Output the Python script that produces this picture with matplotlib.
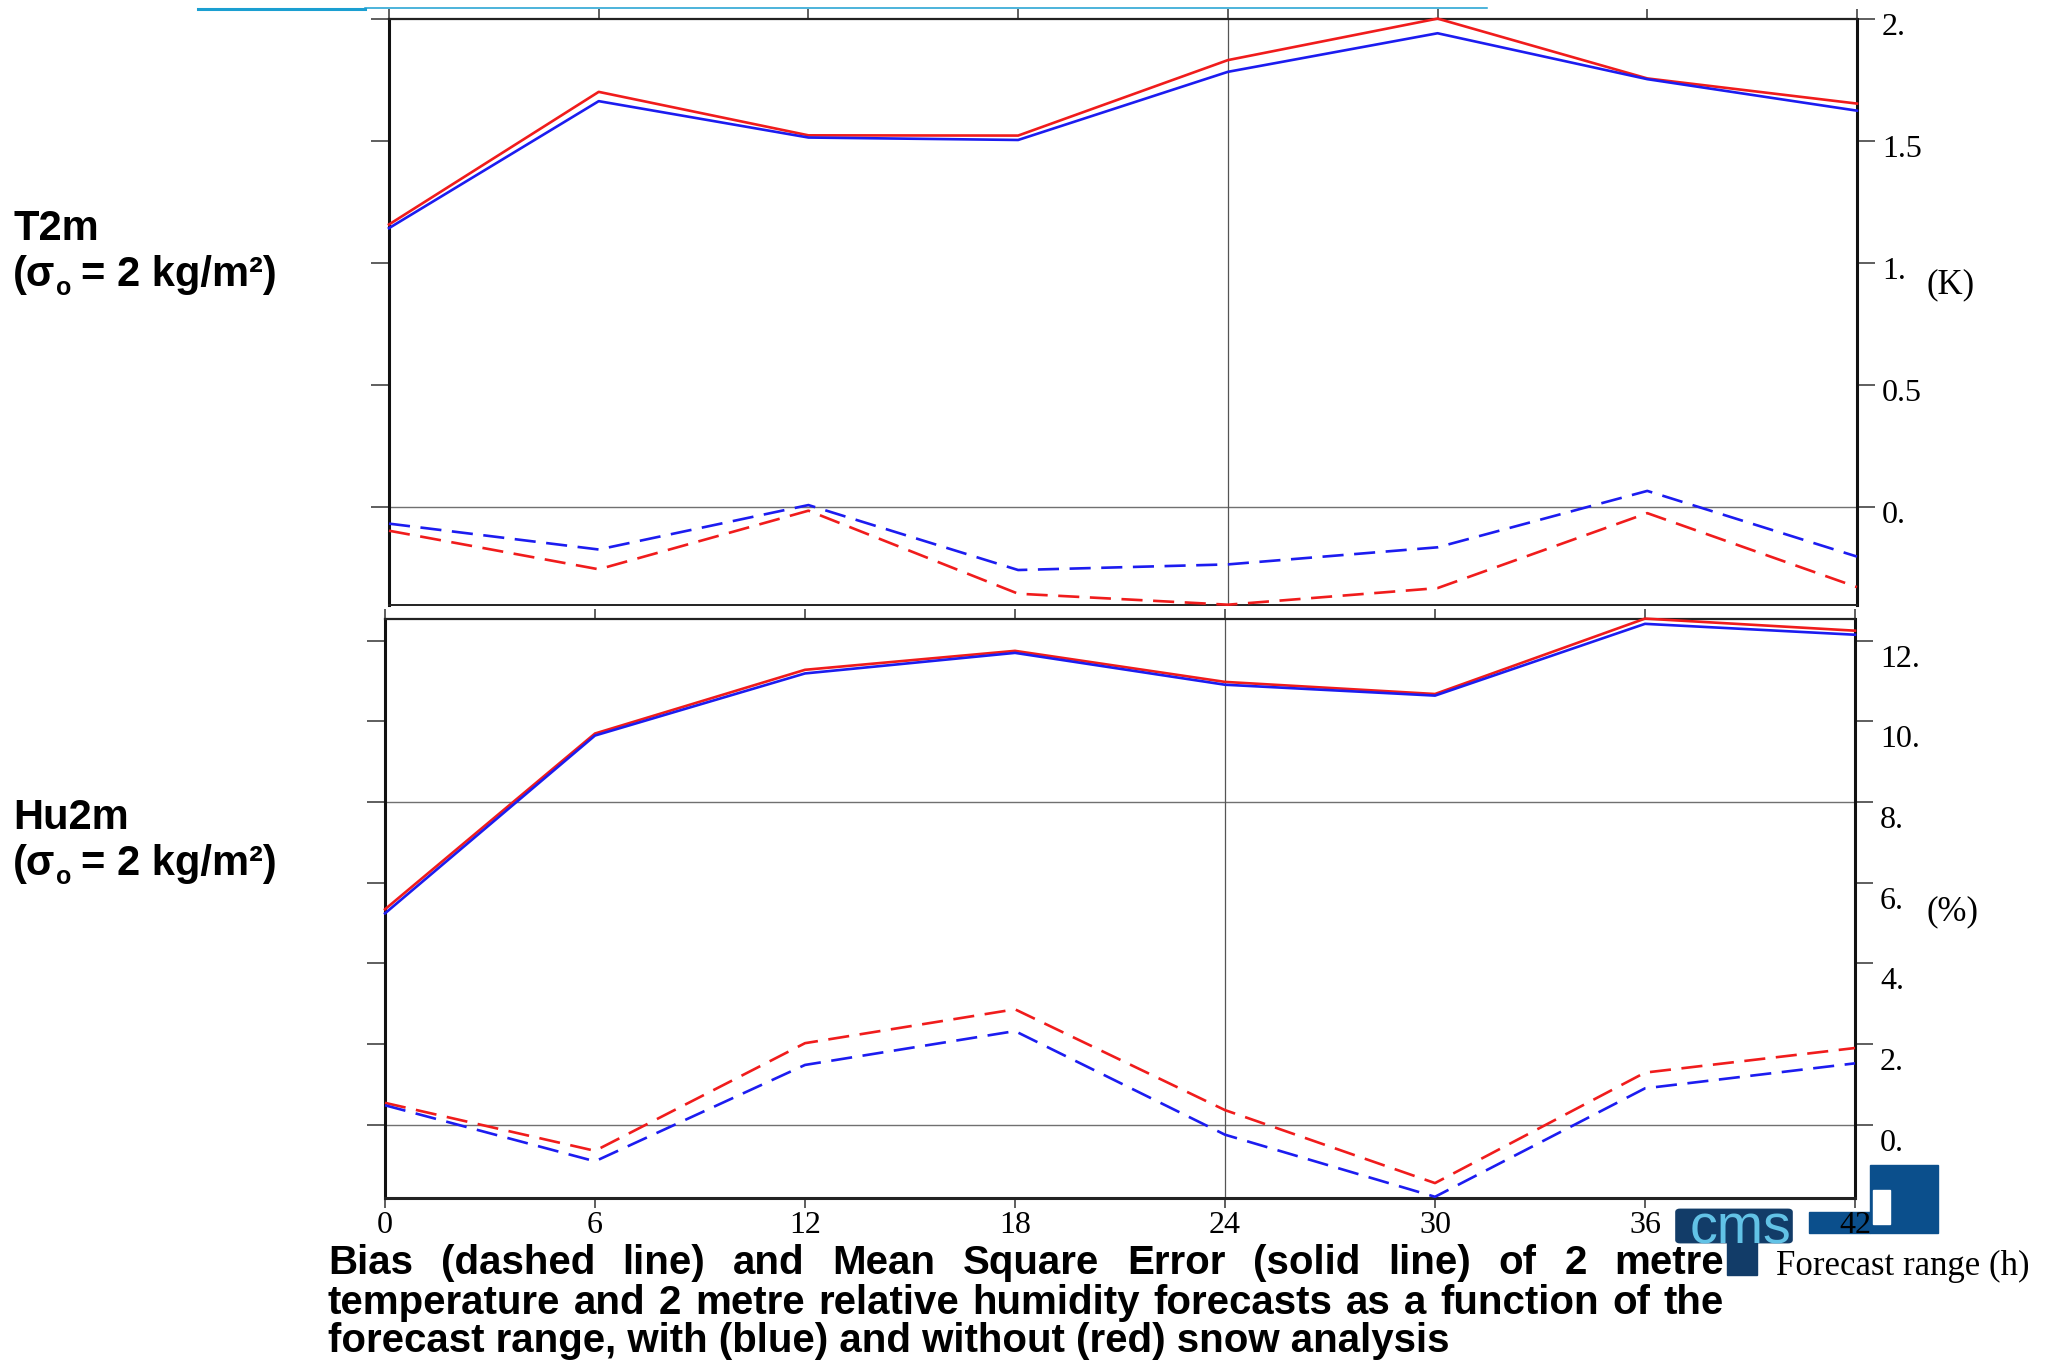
"""
Bias and mean square error of 2 metre temperature and humidity
forecasts, with (blue) and without (red) snow analysis.
"""

import matplotlib
matplotlib.use('Agg')
import matplotlib.pyplot as plt
from matplotlib.lines import Line2D
from matplotlib.patches import Rectangle, FancyBboxPatch
from matplotlib.transforms import ScaledTranslation


WIDTH, HEIGHT, DPI = 2045, 1361, 100

HOURS = [0, 6, 12, 18, 24, 30, 36, 42]

T2M_MSE_BLUE = [1.142, 1.662, 1.513, 1.503, 1.782, 1.94, 1.752, 1.623]
T2M_MSE_RED = [1.157, 1.70, 1.522, 1.521, 1.83, 2.00, 1.755, 1.652]
T2M_BIAS_BLUE = [-0.068, -0.174, 0.008, -0.258, -0.235, -0.165, 0.066, -0.203]
T2M_BIAS_RED = [-0.097, -0.255, -0.015, -0.355, -0.40, -0.332, -0.025, -0.328]

HU2M_MSE_BLUE = [5.24, 9.65, 11.19, 11.70, 10.91, 10.64, 12.42, 12.15]
HU2M_MSE_RED = [5.34, 9.70, 11.28, 11.75, 10.98, 10.68, 12.55, 12.25]
HU2M_BIAS_BLUE = [0.48, -0.91, 1.48, 2.32, -0.25, -1.79, 0.90, 1.52]
HU2M_BIAS_RED = [0.54, -0.65, 2.02, 2.86, 0.36, -1.45, 1.29, 1.90]

T2M_TICKS = [0, 0.5, 1, 1.5, 2]
T2M_TICK_LABELS = ['0.', '0.5', '1.', '1.5', '2.']
HU2M_TICKS = [0, 2, 4, 6, 8, 10, 12]
HU2M_TICK_LABELS = ['0.', '2.', '4.', '6.', '8.', '10.', '12.']

CAPTION_LINES = [
    'Bias (dashed line) and Mean Square Error (solid line) of 2 metre',
    'temperature and 2 metre relative humidity forecasts as a function of the',
    'forecast range, with (blue) and without (red) snow analysis',
]

RED = '#f01c1c'
BLUE = '#1c1cf0'
SERIF = 'Liberation Serif'
SANS = 'Liberation Sans'


def fx(x):
    return x / WIDTH


def fy(y):
    return 1 - y / HEIGHT


def make_panel(fig, rect, ylim, ticks, tick_labels, hlines,
               mse_blue, mse_red, bias_blue, bias_red, show_xlabels,
               label_drop):

    ax = fig.add_axes(rect)
    ax.set_xlim(0, 42)
    ax.set_ylim(*ylim)

    for y in hlines:
        ax.axhline(y, color='#707070', lw=1.0, zorder=1)
    ax.axvline(24, color='#555555', lw=0.9, zorder=1)

    line_kw = dict(lw=1.9, clip_on=False, zorder=3)
    ax.plot(HOURS, mse_red, color=RED, **line_kw)
    ax.plot(HOURS, mse_blue, color=BLUE, **line_kw)
    ax.plot(HOURS, bias_red, color=RED, dashes=(8, 4), **line_kw)
    ax.plot(HOURS, bias_blue, color=BLUE, dashes=(8, 4), **line_kw)

    ax.set_xticks(HOURS)
    ax.set_yticks(ticks, tick_labels)

    ax.tick_params(axis='y', which='major', left=True, right=True,
                   labelleft=False, labelright=True, direction='out',
                   length=13, width=1.1, color='#333333', pad=5,
                   labelsize=23)
    ax.tick_params(axis='x', which='major', top=True, bottom=show_xlabels,
                   labelbottom=show_xlabels, direction='out',
                   length=7.5, width=1.1, color='#333333', pad=2.5,
                   labelsize=23)

    for label in ax.get_xticklabels() + ax.get_yticklabels():
        label.set_fontfamily(SERIF)

    offset = ScaledTranslation(0, -label_drop / DPI, fig.dpi_scale_trans)
    for tick in ax.yaxis.get_major_ticks():
        tick.label2.set_transform(tick.label2.get_transform() + offset)

    for side in ('left', 'right'):
        ax.spines[side].set_linewidth(2.2)
        ax.spines[side].set_color('#111111')
    ax.spines['top'].set_linewidth(1.6)
    ax.spines['top'].set_color('#222222')
    ax.spines['bottom'].set_linewidth(2.2 if show_xlabels else 1.4)
    ax.spines['bottom'].set_color('#222222')

    return ax


def put_justified(fig, renderer, text, left, right, baseline, **kw):
    words = text.split()
    texts = [fig.text(0, fy(baseline), w, va='baseline', **kw) for w in words]
    widths = [t.get_window_extent(renderer).width for t in texts]
    gap = (right - left - sum(widths)) / (len(words) - 1)
    x = left
    for t, w in zip(texts, widths):
        t.set_x(fx(x))
        x += w + gap


def put_sigma_label(fig, renderer, name, baseline):
    font = dict(family=SANS, weight='bold', size=30)
    fig.text(fx(13), fy(baseline), name, va='baseline', **font)
    base2 = baseline + 46
    t1 = fig.text(fx(13), fy(base2), '(σ', va='baseline', **font)
    x = 13 + t1.get_window_extent(renderer).width + 1
    t2 = fig.text(fx(x), fy(base2 + 9), 'o', va='baseline',
                  family=SANS, weight='bold', size=18)
    x += t2.get_window_extent(renderer).width + 9
    fig.text(fx(x), fy(base2), '= 2 kg/m²)', va='baseline', **font)


def add_decorations(fig):

    # slide header rule at the very top
    fig.add_artist(Line2D([fx(198), fx(365)], [fy(8.5), fy(8.5)],
                          color='#1b9fd1', lw=2.2))
    fig.add_artist(Line2D([fx(365), fx(1487)], [fy(8), fy(8)],
                          color='#1b9fd1', lw=1.1))

    # logo fragments at the lower right
    logo_blue = '#0b4f8c'
    fig.add_artist(Rectangle((fx(1870), fy(1233)), fx(68), 68 / HEIGHT,
                             color=logo_blue, zorder=-1))
    fig.add_artist(Rectangle((fx(1809), fy(1233)), fx(61), 21 / HEIGHT,
                             color=logo_blue, zorder=-1))
    fig.add_artist(Rectangle((fx(1873), fy(1224)), fx(17), 34 / HEIGHT,
                             color='white', zorder=-0.5))
    navy = '#123c68'
    head = FancyBboxPatch((fx(1680), fy(1240)), fx(108), 28 / HEIGHT,
                          boxstyle='round,pad=0.002', color=navy, zorder=5)
    fig.add_artist(head)
    fig.add_artist(Rectangle((fx(1727), fy(1275)), fx(30), 62 / HEIGHT,
                             color=navy, zorder=5))
    letters = fig.text(fx(1690), fy(1243), 'cms', va='baseline',
                       family=SANS, size=40, color='#62c2e6', zorder=6)
    letters.set_clip_path(head)


def main():

    fig = plt.figure(figsize=(WIDTH / DPI, HEIGHT / DPI), dpi=DPI)
    renderer = fig.canvas.get_renderer()

    make_panel(fig, [fx(389), fy(604.7), fx(1468), 586.1 / HEIGHT],
               (-0.4, 2.0), T2M_TICKS, T2M_TICK_LABELS, [0],
               T2M_MSE_BLUE, T2M_MSE_RED, T2M_BIAS_BLUE, T2M_BIAS_RED,
               show_xlabels=False, label_drop=5)

    make_panel(fig, [fx(385), fy(1197.6), fx(1470), 579.0 / HEIGHT],
               (-1.81, 12.55), HU2M_TICKS, HU2M_TICK_LABELS, [0, 8],
               HU2M_MSE_BLUE, HU2M_MSE_RED, HU2M_BIAS_BLUE, HU2M_BIAS_RED,
               show_xlabels=True, label_drop=15)

    fig.text(fx(1927), fy(285), '(K)', va='center', family=SERIF, size=25)
    fig.text(fx(1927), fy(912), '(%)', va='center', family=SERIF, size=25)
    fig.text(fx(1776), fy(1275), 'Forecast range (h)', va='baseline',
             family=SERIF, size=25)

    put_sigma_label(fig, renderer, 'T2m', 240)
    put_sigma_label(fig, renderer, 'Hu2m', 829)

    caption_font = dict(family=SANS, weight='bold', size=29)
    put_justified(fig, renderer, CAPTION_LINES[0], 328, 1724, 1274,
                  **caption_font)
    put_justified(fig, renderer, CAPTION_LINES[1], 328, 1724, 1314,
                  **caption_font)
    fig.text(fx(328), fy(1352), CAPTION_LINES[2], va='baseline',
             **caption_font)

    add_decorations(fig)

    fig.savefig('out.png', dpi=DPI)


if __name__ == '__main__':
    main()
